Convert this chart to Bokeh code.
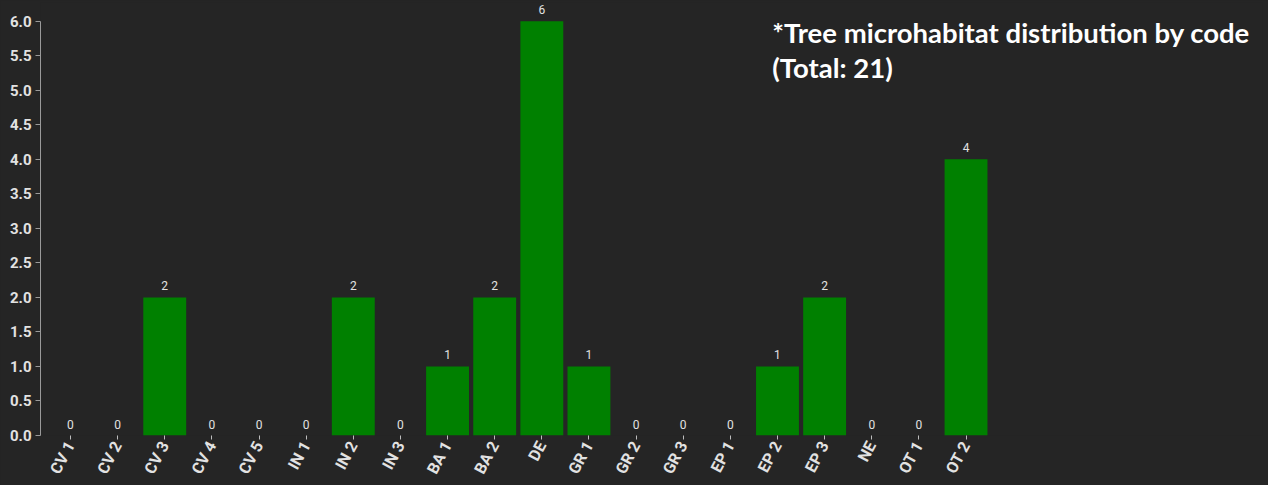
from bokeh.plotting import figure
from bokeh.models import ColumnDataSource, LabelSet, Label, FixedTicker, Range1d, PrintfTickFormatter
from bokeh.core.properties import value
from bokeh.embed import file_html
from bokeh.resources import INLINE

codes = ["CV 1", "CV 2", "CV 3", "CV 4", "CV 5", "IN 1", "IN 2", "IN 3", "BA 1", "BA 2",
         "DE", "GR 1", "GR 2", "GR 3", "EP 1", "EP 2", "EP 3", "NE", "OT 1", "OT 2"]
counts = [0, 0, 2, 0, 0, 0, 2, 0, 1, 2, 6, 1, 0, 0, 0, 1, 2, 0, 0, 4]
y_ticks = [0.0, 0.5, 1.0, 1.5, 2.0, 2.5, 3.0, 3.5, 4.0, 4.5, 5.0, 5.5, 6.0]
title_lines = ["*Tree microhabitat distribution by code", "(Total: 21)"]

BG = "#252525"
BAR = "#008000"
TXT = "#e2e2e2"

positions = list(range(len(codes)))
source = ColumnDataSource(dict(pos=positions, code=codes, count=counts,
                               label=[str(c) for c in counts]))

p = figure(
    x_range=Range1d(-0.636, 25.29),
    y_range=Range1d(0, 6.27),
    width=1268, height=485,
    output_backend="svg", toolbar_location=None,
    background_fill_color=BG, border_fill_color=BG,
    min_border_left=40, min_border_right=6, min_border_top=2, min_border_bottom=50,
)
p.outline_line_color = None

p.vbar(x="pos", top="count", width=0.91, source=source,
       fill_color=BAR, line_color=None)

labels = LabelSet(x="pos", y="count", text="label", source=source,
                  y_offset=7, text_align="center", text_baseline="bottom",
                  text_font=value("Roboto"), text_font_size="12px", text_color=TXT)
p.add_layout(labels)

for i, line in enumerate(title_lines):
    p.add_layout(Label(x=14.89, y=5.835 - i * 0.512, text=line,
                       text_baseline="alphabetic", text_align="left",
                       text_font="Lato", text_font_style="bold", text_font_size="27.5px",
                       text_color="#ffffff"))

p.xgrid.visible = False
p.ygrid.visible = False

xa = p.xaxis[0]
xa.ticker = FixedTicker(ticks=positions)
xa.major_label_overrides = {pos: code for pos, code in zip(positions, codes)}
xa.axis_line_color = None
xa.major_tick_line_color = "#bdbdbd"
xa.major_tick_in = 0
xa.major_tick_out = 4
xa.minor_tick_line_color = None
xa.major_label_orientation = 1.08
xa.major_label_standoff = 3
xa.major_label_text_font = "Roboto"
xa.major_label_text_font_style = "bold"
xa.major_label_text_font_size = "16px"
xa.major_label_text_color = TXT

ya = p.yaxis[0]
ya.ticker = FixedTicker(ticks=y_ticks)
ya.bounds = (0, 6)
ya.formatter = PrintfTickFormatter(format="%.1f")
ya.axis_line_color = "#9a9a9a"
ya.major_tick_line_color = "#9a9a9a"
ya.major_tick_in = 0
ya.major_tick_out = 5
ya.minor_tick_line_color = None
ya.major_label_standoff = 4
ya.major_label_text_font = "Roboto"
ya.major_label_text_font_style = "bold"
ya.major_label_text_font_size = "15px"
ya.major_label_text_color = TXT

html = file_html(p, INLINE)
html = html.replace("</head>", "<style>html, body { background-color: %s; }</style></head>" % BG, 1)
open("out.html", "w").write(html)
